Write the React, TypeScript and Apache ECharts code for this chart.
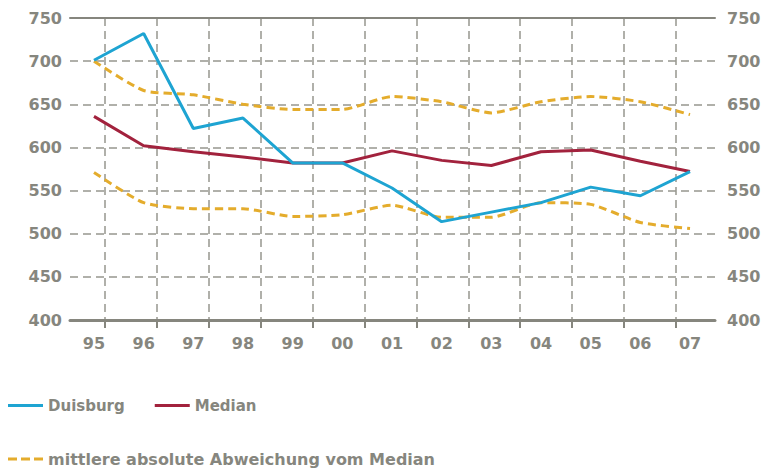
import React, { useEffect, useRef } from "react";
import * as echarts from "echarts";

const years = ["95", "96", "97", "98", "99", "00", "01", "02", "03", "04", "05", "06", "07"];
const duisburg = [701, 732, 622, 634, 582, 582, 553, 514, 525, 536, 554, 544, 572];
const median = [636, 602, 595, 589, 582, 582, 596, 585, 579, 595, 597, 584, 572];
const upperDev = [700, 666, 661, 650, 644, 644, 659, 653, 640, 653, 659, 653, 638];
const lowerDev = [571, 536, 529, 529, 520, 522, 533, 519, 519, 536, 534, 513, 506];
const yTicks = [400, 450, 500, 550, 600, 650, 700, 750];

const GRAY = "#86867e";
const GRID = "#96968f";
const BLUE = "#1ea4d2";
const RED = "#a2223d";
const ORANGE = "#e4ac2c";
const FONT = "DejaVu Sans";
const DEV_NAME = "mittlere absolute Abweichung vom Median";
const DASH_ICON = "path://M0,0h9v3h-9z M13,0h9v3h-9z M26,0h9v3h-9z";

export default function App() {
  const ref = useRef<HTMLDivElement>(null);
  useEffect(() => {
    if (!ref.current) return;
    const chart = echarts.init(ref.current, undefined, { renderer: "svg" });
    const pairs = (arr: number[]) => arr.map((v, i) => [i, v]);
    const vGrid = Array.from({ length: 12 }, (_, k) => 35 + 51.9 * k);
    const labelStyle = { color: GRAY, fontSize: 16, fontWeight: "bold" as const, fontFamily: FONT };
    chart.setOption({
      animation: false,
      backgroundColor: "#ffffff",
      grid: { left: 70, right: 49, top: 18, bottom: 148 },
      legend: [
        {
          left: 8,
          top: 398,
          padding: 0,
          itemWidth: 35,
          itemHeight: 3,
          itemGap: 30,
          icon: "rect",
          data: ["Duisburg", "Median"],
          textStyle: { color: GRAY, fontSize: 15, fontWeight: "bold", fontFamily: FONT },
        },
        {
          left: 8,
          top: 451,
          padding: 0,
          itemWidth: 35,
          itemHeight: 3,
          icon: DASH_ICON,
          data: [DEV_NAME],
          textStyle: { color: GRAY, fontSize: 16, fontWeight: "bold", fontFamily: FONT },
        },
      ],
      xAxis: [
        {
          type: "value",
          min: -0.483,
          max: 12.503,
          axisLine: { show: true, lineStyle: { color: GRAY, width: 3 } },
          axisTick: { show: false },
          splitLine: { show: false },
          axisLabel: {
            ...labelStyle,
            margin: 15,
            customValues: years.map((_, i) => i),
            formatter: (v: number) => years[Math.round(v)] ?? "",
          },
        },
        {
          type: "value",
          position: "bottom",
          min: 0,
          max: 645,
          axisLine: { show: false },
          axisLabel: { show: false },
          axisTick: {
            show: true,
            length: 8,
            customValues: vGrid,
            lineStyle: { color: GRAY, width: 2 },
          },
          splitLine: {
            show: true,
            lineStyle: { color: GRID, width: 1.5, type: [8, 5] },
          },
        },
        {
          type: "value",
          position: "top",
          min: 0,
          max: 1,
          axisLine: { show: true, lineStyle: { color: GRAY, width: 2 } },
          axisLabel: { show: false },
          axisTick: { show: false },
          splitLine: { show: false },
        },
      ],
      yAxis: [
        {
          type: "value",
          min: yTicks[0],
          max: yTicks[yTicks.length - 1],
          interval: 50,
          axisLine: { show: false },
          axisTick: { show: false },
          axisLabel: { ...labelStyle, margin: 8 },
          splitLine: { show: true, lineStyle: { color: GRID, width: 1.5, type: [8, 5] } },
        },
        {
          type: "value",
          position: "right",
          min: yTicks[0],
          max: yTicks[yTicks.length - 1],
          interval: 50,
          axisLine: { show: false },
          axisTick: { show: false },
          axisLabel: { ...labelStyle, margin: 12 },
          splitLine: { show: false },
        },
      ],
      series: [
        {
          name: DEV_NAME,
          type: "line",
          data: pairs(upperDev),
          symbol: "none",
          smooth: 0.2,
          lineStyle: { color: ORANGE, width: 3, type: [8, 5] },
          itemStyle: { color: ORANGE },
          z: 3,
        },
        {
          name: DEV_NAME,
          type: "line",
          data: pairs(lowerDev),
          symbol: "none",
          smooth: 0.2,
          lineStyle: { color: ORANGE, width: 3, type: [8, 5] },
          itemStyle: { color: ORANGE },
          z: 3,
        },
        {
          name: "Median",
          type: "line",
          data: pairs(median),
          symbol: "none",
          lineStyle: { color: RED, width: 3 },
          itemStyle: { color: RED },
          z: 4,
        },
        {
          name: "Duisburg",
          type: "line",
          data: pairs(duisburg),
          symbol: "none",
          lineStyle: { color: BLUE, width: 3 },
          itemStyle: { color: BLUE },
          z: 5,
        },
      ],
    });
    return () => chart.dispose();
  }, []);
  return <div ref={ref} style={{ width: 764, height: 468, position: "absolute", left: 0, top: 0 }} />;
}
